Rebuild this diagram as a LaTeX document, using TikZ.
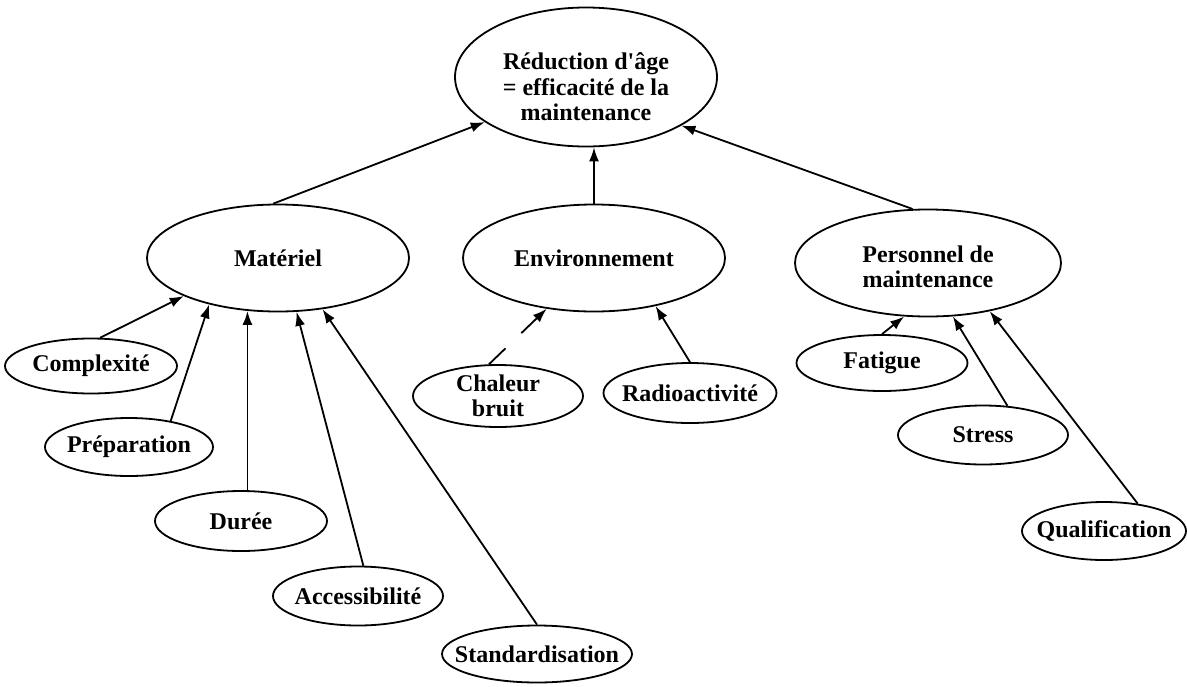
\documentclass[tikz,border=0pt]{standalone}
\usepackage{fontspec}
\setmainfont{Liberation Serif}
\usetikzlibrary{shapes.geometric,arrows.meta}
\begin{document}
\begin{tikzpicture}[x=1pt,y=-1pt,
  oval/.style={draw, line width=1.8pt, ellipse, inner sep=0pt},
  txt/.style={font=\bfseries\fontsize{24pt}{25.5pt}\selectfont, align=center, inner sep=0pt},
  arr/.style={line width=1.8pt, -{Latex[length=14pt,width=10pt]}},
]
\useasboundingbox (0,0) rectangle (1187,686);

% root
\node[oval, minimum width=262pt, minimum height=139pt,
  label={[txt, yshift=-10pt]center:{Réduction d\textquotesingle âge\\= efficacité de la\\maintenance}}] (top) at (586,77) {};

% three families
\node[oval, minimum width=262pt, minimum height=107pt,
  label={[txt]center:Matériel}] (mat) at (278,258) {};
\node[oval, minimum width=262pt, minimum height=107pt,
  label={[txt]center:Environnement}] (env) at (594,258) {};
\node[oval, minimum width=266pt, minimum height=107pt,
  label={[txt, yshift=-4pt]center:{Personnel de\\maintenance}}] (pers) at (928,263) {};

% equipment factors
\node[oval, minimum width=172pt, minimum height=55pt,
  label={[txt]center:Complexité}] (comp) at (91,366) {};
\node[oval, minimum width=168pt, minimum height=58pt,
  label={[txt]center:Préparation}] (prep) at (129,447) {};
\node[oval, minimum width=172pt, minimum height=60pt,
  label={[txt]center:Durée}] (dur) at (241,521) {};
\node[oval, minimum width=170pt, minimum height=59pt,
  label={[txt]center:Accessibilité}] (acc) at (358,596) {};
\node[oval, minimum width=190pt, minimum height=57pt,
  label={[txt]center:Standardisation}] (std) at (537,654) {};

% environment factors
\node[oval, minimum width=170pt, minimum height=62pt,
  label={[txt]center:{Chaleur\\bruit}}] (chal) at (498,396) {};
\node[oval, minimum width=173pt, minimum height=60pt,
  label={[txt]center:Radioactivité}] (radio) at (690,393) {};

% staff factors
\node[oval, minimum width=171pt, minimum height=56pt,
  label={[txt]center:Fatigue}] (fat) at (882,363) {};
\node[oval, minimum width=170pt, minimum height=59pt,
  label={[txt]center:Stress}] (str) at (983,435) {};
\node[oval, minimum width=164pt, minimum height=58pt,
  label={[txt]center:Qualification}] (qual) at (1104,531) {};

% links to the root
\draw[arr] (mat.95) -- (top.-156.6);
\draw[arr] (env.north) -- (env.north |- top.south);
\draw[arr] (pers.106) -- (top.-27.3);

% links to Matériel
\draw[arr] (comp.72.8) -- (mat.-158.9);
\draw[arr] (prep.32) -- (mat.-146.1);
\draw[arr] (mat.-120 |- dur.north) -- (mat.-120);
\draw[arr] (acc.80.5) -- (mat.-71.6);
\draw[arr] (std.north) -- (mat.-49.8);

% links to Environnement
\draw[arr, dash pattern=on 23pt off 22pt on 200pt] (chal.106) -- (env.-133.3);
\draw[arr] (radio.north) -- (env.-38.8);

% links to Personnel de maintenance
\draw[arr] (fat.north) -- (pers.-114.4);
\draw[arr] (str.50) -- (pers.-65.8);
\draw[arr] (qual.39.6) -- (pers.-38.6);
\end{tikzpicture}
\end{document}
